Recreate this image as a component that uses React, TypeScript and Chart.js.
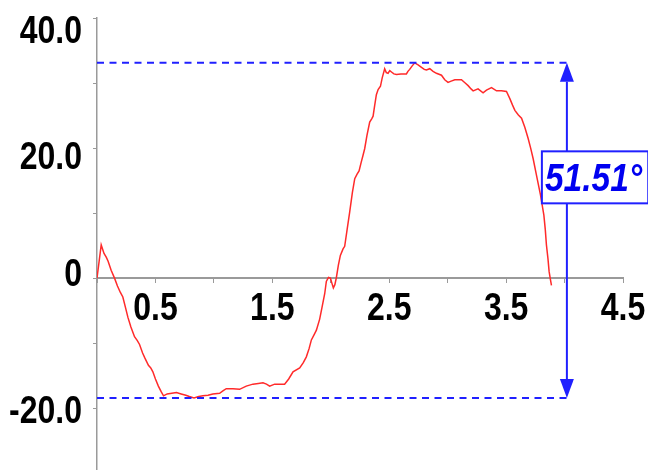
import { useEffect, useRef } from 'react';
import { Chart, registerables } from 'chart.js';

Chart.register(...registerables);

// Elapsed time (s) and measured angle (°) of the swing trace
const timeValues = [
  0.0, 0.036, 0.06, 0.08, 0.095, 0.121, 0.15, 0.175, 0.2, 0.221, 0.245, 0.264, 0.29, 0.321, 0.345,
  0.364, 0.39, 0.41, 0.44, 0.46, 0.478, 0.5, 0.525, 0.55, 0.569, 0.6, 0.64, 0.68, 0.72, 0.76,
  0.79, 0.83, 0.87, 0.906, 0.95, 0.991, 1.049, 1.08, 1.106, 1.163, 1.22, 1.277, 1.334, 1.38, 1.42,
  1.45, 1.477, 1.52, 1.56, 1.605, 1.64, 1.677, 1.734, 1.765, 1.791, 1.815, 1.834, 1.86, 1.877, 1.905,
  1.925, 1.948, 1.962, 1.98, 1.997, 2.01, 2.022, 2.035, 2.048, 2.065, 2.082, 2.105, 2.119, 2.14, 2.162,
  2.185, 2.205, 2.225, 2.242, 2.26, 2.276, 2.29, 2.31, 2.333, 2.35, 2.362, 2.375, 2.39, 2.405, 2.425,
  2.44, 2.461, 2.475, 2.49, 2.505, 2.519, 2.54, 2.562, 2.6, 2.647, 2.66, 2.675, 2.695, 2.718, 2.747,
  2.77, 2.8, 2.818, 2.847, 2.875, 2.904, 2.947, 2.975, 3.003, 3.03, 3.061, 3.118, 3.15, 3.175, 3.2,
  3.218, 3.26, 3.303, 3.332, 3.375, 3.418, 3.46, 3.503, 3.532, 3.555, 3.575, 3.605, 3.632, 3.66, 3.688,
  3.71, 3.731, 3.76, 3.794, 3.823, 3.835, 3.845, 3.858, 3.868, 3.88, 3.888,
];
const angleValues = [
  0.0, 5.1, 3.8, 3.2, 2.6, 1.2, 0.0, -1.2, -2.2, -2.9, -4.6, -6.0, -7.5, -9.0, -9.6,
  -10.2, -11.5, -12.3, -13.4, -13.8, -14.4, -15.5, -16.6, -17.5, -18.1, -17.8, -17.7, -17.6, -17.8, -18.0,
  -18.2, -18.41, -18.2, -18.1, -18.0, -17.8, -17.7, -17.3, -17.0, -17.0, -17.1, -16.6, -16.3, -16.2, -16.1,
  -16.3, -16.6, -16.3, -16.3, -16.3, -15.5, -14.4, -13.8, -13.0, -12.1, -10.8, -9.5, -8.6, -8.0, -6.3,
  -4.5, -2.4, -0.5, 0.1, 0.0, -0.8, -1.5, -1.0, 0.1, 2.0, 3.5, 4.5, 4.9, 7.5, 10.2,
  13.2, 15.3, 16.0, 16.5, 17.8, 18.9, 19.9, 22.0, 24.0, 24.5, 24.9, 26.5, 28.2, 29.0, 29.5,
  30.8, 32.2, 31.6, 31.5, 31.9, 31.7, 31.4, 31.3, 31.4, 31.4, 31.8, 32.1, 32.6, 33.1, 32.8,
  32.5, 32.1, 32.0, 32.2, 31.8, 31.5, 31.2, 30.5, 30.1, 30.3, 30.5, 30.5, 30.0, 29.6, 29.1,
  28.8, 29.1, 28.5, 28.9, 29.3, 28.8, 28.8, 28.7, 27.6, 26.6, 25.8, 25.1, 24.6, 23.2, 21.5,
  20.0, 18.4, 15.8, 12.8, 9.7, 7.5, 5.1, 3.0, 1.0, -0.3, -1.1,
];

// Range marker: peak / trough levels, arrow position and label height
const peakValue = 33.1;
const troughValue = -18.41;
const markerTime = 4.02;
const markerLabelLevel = 15.5;

// Axis ticks
const yTickValues = [-20, -10, 0, 10, 20, 30, 40];
const yLabelValues = [-20, 0, 20, 40];
const xLabelValues = [0.5, 1.5, 2.5, 3.5, 4.5];

const FONT_FAMILY = '"Liberation Sans", Arial, sans-serif';
const FONT_SIZE = 39;
const NARROW = 0.82; // horizontal squeeze for a narrow face
const AXIS_GREY = '#9a9a9a';
const MARK_BLUE = '#2020ff';
const TEXT_BLUE = '#0000f0';

// baseline drop of each y label below its tick, px
const Y_LABEL_DROP: Record<string, number> = { '-20': 14.5, '0': 7.5, '20': 20.5, '40': 25 };

function formatY(v: number) {
  return v === 0 ? '0' : v.toFixed(1);
}

// draws text squeezed horizontally around its anchor
function narrowText(
  ctx: CanvasRenderingContext2D,
  text: string,
  x: number,
  y: number,
  align: CanvasTextAlign,
  squeeze = NARROW,
) {
  ctx.save();
  ctx.translate(x, y);
  ctx.scale(squeeze, 1);
  ctx.textAlign = align;
  ctx.fillText(text, 0, 0);
  ctx.restore();
}

const axisLabels = {
  id: 'axisLabels',
  afterDraw(chart: any) {
    const { ctx, scales } = chart;
    const x = scales.x;
    const y = scales.y;
    const axisY = y.getPixelForValue(0);
    ctx.save();
    ctx.fillStyle = '#000000';
    ctx.font = `bold ${FONT_SIZE}px ${FONT_FAMILY}`;
    ctx.textBaseline = 'alphabetic';
    xLabelValues.forEach((v) => {
      narrowText(ctx, v.toFixed(1), x.getPixelForValue(v), axisY + 42, 'center');
    });
    yLabelValues.forEach((v) => {
      const drop = Y_LABEL_DROP[String(v)] ?? 17;
      narrowText(ctx, formatY(v), y.left + 82, y.getPixelForValue(v) + drop, 'right');
    });
    ctx.restore();
  },
};

const rangeMarker = {
  id: 'rangeMarker',
  afterDatasetsDraw(chart: any) {
    const { ctx, chartArea, scales } = chart;
    const x = scales.x;
    const y = scales.y;
    const yTop = y.getPixelForValue(peakValue);
    const yBot = y.getPixelForValue(troughValue);
    const xArrow = x.getPixelForValue(markerTime);

    ctx.save();
    ctx.strokeStyle = MARK_BLUE;
    ctx.fillStyle = MARK_BLUE;
    ctx.lineWidth = 2;

    // dashed level lines
    ctx.setLineDash([7, 5.5]);
    ctx.beginPath();
    ctx.moveTo(chartArea.left, yTop);
    ctx.lineTo(xArrow, yTop);
    ctx.moveTo(chartArea.left, yBot);
    ctx.lineTo(xArrow, yBot);
    ctx.stroke();

    // double-headed arrow
    ctx.setLineDash([]);
    const headLen = 19;
    const headHalf = 7;
    ctx.beginPath();
    ctx.moveTo(xArrow, yTop + headLen);
    ctx.lineTo(xArrow, yBot - headLen);
    ctx.stroke();
    ctx.beginPath();
    ctx.moveTo(xArrow, yTop);
    ctx.lineTo(xArrow - headHalf, yTop + headLen);
    ctx.lineTo(xArrow + headHalf, yTop + headLen);
    ctx.closePath();
    ctx.fill();
    ctx.beginPath();
    ctx.moveTo(xArrow, yBot);
    ctx.lineTo(xArrow - headHalf, yBot - headLen);
    ctx.lineTo(xArrow + headHalf, yBot - headLen);
    ctx.closePath();
    ctx.fill();

    // range label
    const labelSqueeze = 0.86;
    const text = (peakValue - troughValue).toFixed(2) + '°';
    ctx.font = `italic bold ${FONT_SIZE}px ${FONT_FAMILY}`;
    const tw = ctx.measureText(text).width * labelSqueeze;
    const cy = y.getPixelForValue(markerLabelLevel);
    const boxLeft = xArrow - 25;
    const boxW = tw + 9;
    const boxH = 52;
    ctx.fillStyle = '#ffffff';
    ctx.fillRect(boxLeft, cy - boxH / 2, boxW, boxH);
    ctx.strokeRect(boxLeft, cy - boxH / 2, boxW, boxH);
    ctx.fillStyle = TEXT_BLUE;
    ctx.textBaseline = 'alphabetic';
    narrowText(ctx, text, boxLeft + 3, cy + 14, 'left', labelSqueeze);
    ctx.restore();
  },
};

export default function App() {
  const canvasRef = useRef<HTMLCanvasElement | null>(null);

  useEffect(() => {
    document.body.style.margin = '0';
    document.body.style.overflow = 'hidden';
    const canvas = canvasRef.current;
    if (!canvas) return;

    const points = timeValues.map((t, i) => ({ x: t, y: angleValues[i] }));

    const chart = new Chart(canvas, {
      type: 'line',
      data: {
        datasets: [
          {
            data: points,
            borderColor: '#ff2a2a',
            borderWidth: 1.5,
            pointRadius: 0,
            tension: 0,
            fill: false,
          },
        ],
      },
      options: {
        responsive: false,
        animation: false,
        layout: { padding: { left: 0, right: 25, top: 18, bottom: 0 } },
        plugins: {
          legend: { display: false },
          tooltip: { enabled: false },
        },
        scales: {
          x: {
            type: 'linear',
            position: { y: 0 },
            min: 0,
            max: 4.5,
            border: { display: true, color: AXIS_GREY, width: 2 },
            grid: {
              display: true,
              drawOnChartArea: false,
              drawTicks: true,
              tickLength: 4,
              color: AXIS_GREY,
            },
            ticks: {
              stepSize: 0.5,
              autoSkip: false,
              maxRotation: 0,
              callback: () => '',
            },
          },
          y: {
            type: 'linear',
            min: -29.5,
            max: 40,
            border: { display: true, color: AXIS_GREY, width: 1.5 },
            grid: {
              display: true,
              drawOnChartArea: false,
              drawTicks: true,
              tickLength: 4,
              color: AXIS_GREY,
            },
            afterBuildTicks: (scale: any) => {
              scale.ticks = yTickValues.map((v) => ({ value: v }));
            },
            afterFit: (scale: any) => {
              scale.width = 97;
              scale.paddingTop = 0;
              scale.paddingBottom = 0;
            },
            ticks: {
              autoSkip: false,
              callback: () => '',
            },
          },
        },
      },
      plugins: [rangeMarker, axisLabels],
    });

    return () => chart.destroy();
  }, []);

  return <canvas ref={canvasRef} width={648} height={470} style={{ display: 'block' }} />;
}
